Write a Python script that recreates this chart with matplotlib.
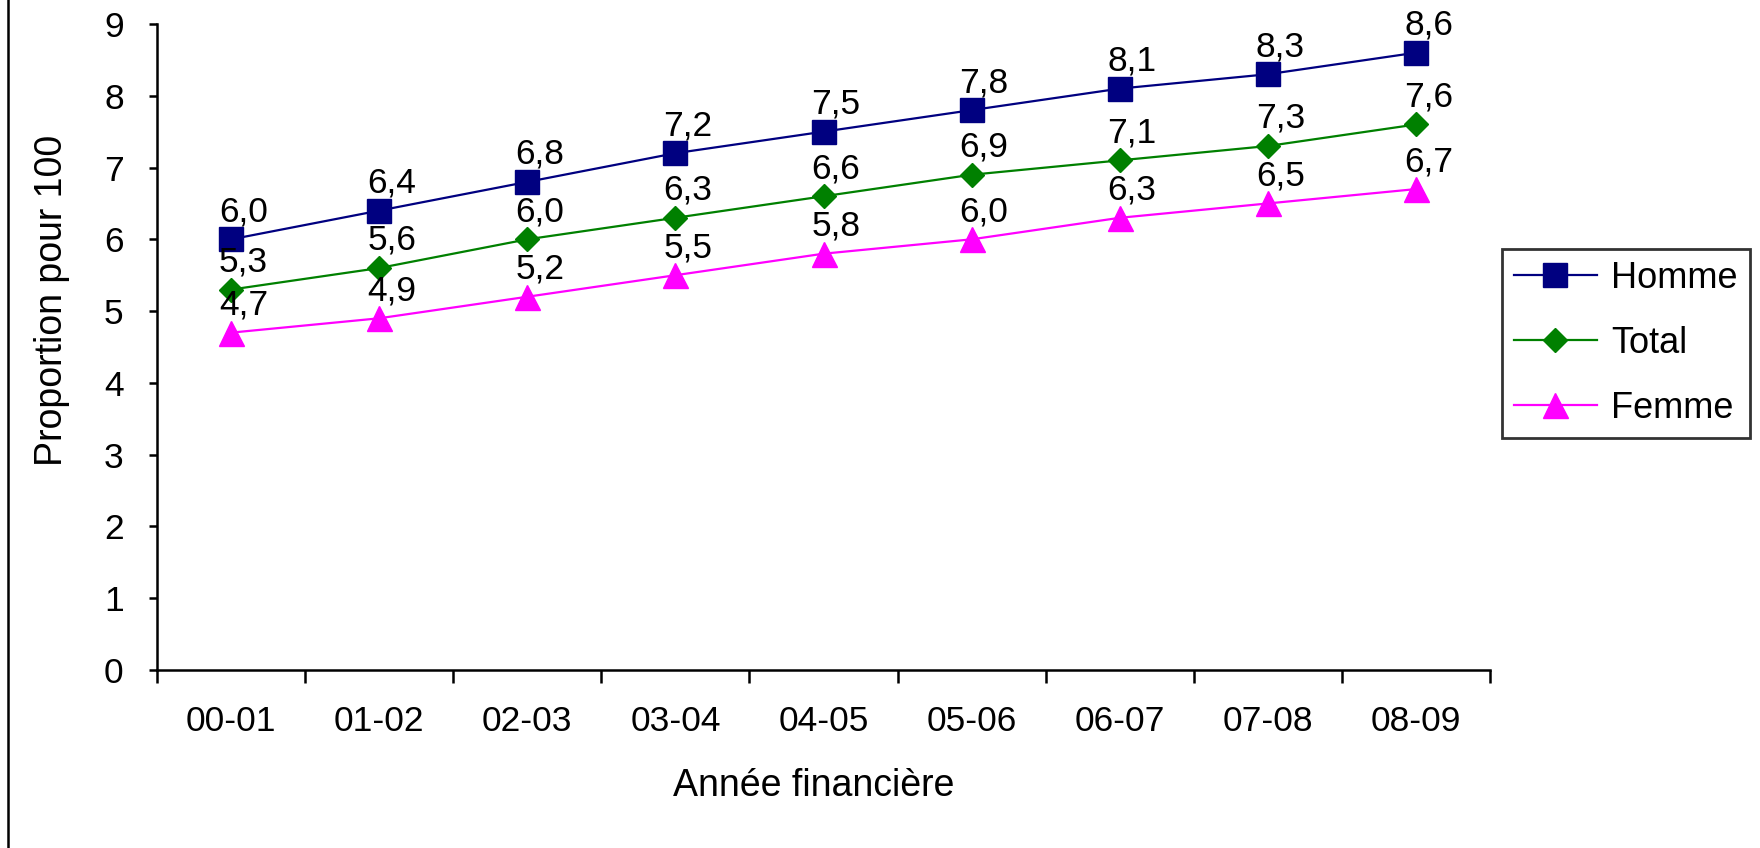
import matplotlib
matplotlib.use("Agg")
import matplotlib.pyplot as plt
from matplotlib.lines import Line2D

plt.rcParams['font.family'] = ['Liberation Sans', 'DejaVu Sans']

years = ["00-01", "01-02", "02-03", "03-04", "04-05", "05-06", "06-07", "07-08", "08-09"]
homme = [6.0, 6.4, 6.8, 7.2, 7.5, 7.8, 8.1, 8.3, 8.6]
total = [5.3, 5.6, 6.0, 6.3, 6.6, 6.9, 7.1, 7.3, 7.6]
femme = [4.7, 4.9, 5.2, 5.5, 5.8, 6.0, 6.3, 6.5, 6.7]
yticks = [0, 1, 2, 3, 4, 5, 6, 7, 8, 9]

W, H = 1760, 848
fig = plt.figure(figsize=(W / 100, H / 100), dpi=100)
ax = fig.add_axes([157 / W, 1 - 670 / H, (1490 - 157) / W, (670 - 24) / H])

series = [
    ("Homme", homme, "#000080", "s", 17),
    ("Total", total, "#008000", "D", 12),
    ("Femme", femme, "#FF00FF", "^", 18),
]
x = list(range(len(years)))
fs_tick = 25.5
fs_label = 27
for name, vals, color, marker, ms in series:
    ax.plot(x, vals, color=color, lw=1.6, marker=marker, markersize=ms,
            markerfacecolor=color, markeredgecolor=color, label=name, clip_on=False)
    for xi, v in zip(x, vals):
        ax.annotate(f"{v:.1f}".replace(".", ","), (xi, v), xytext=(9, 13),
                    textcoords="offset points", ha="center", va="baseline",
                    fontsize=fs_tick, color="black")

ax.set_xlim(-0.5, len(years) - 0.5)
ax.set_ylim(0, 9)
ax.set_yticks(yticks)
ax.set_yticklabels([str(t) for t in yticks])
ax.set_xticks([i - 0.5 for i in range(len(years) + 1)])
ax.set_xticklabels([])
ax.set_xticks(x, minor=True)
ax.set_xticklabels(years, minor=True)
ax.tick_params(axis="x", which="major", direction="out", length=9, width=1.8)
ax.tick_params(axis="x", which="minor", length=0, pad=25, labelsize=fs_tick)
ax.tick_params(axis="y", direction="out", length=6, width=1.8, pad=18, labelsize=fs_tick)
for s in ("top", "right"):
    ax.spines[s].set_visible(False)
for s in ("left", "bottom"):
    ax.spines[s].set_linewidth(1.8)

fig.text(52 / W, 1 - 300 / H, "Proportion pour 100", rotation=90,
         ha="center", va="center", fontsize=fs_label)
fig.text(814 / W, 1 - 786 / H, "Année financière", ha="center", va="center",
         fontsize=fs_label)

leg = ax.legend(loc="upper left", bbox_to_anchor=(1502 / W, 1 - 249 / H),
                bbox_transform=fig.transFigure, borderaxespad=0, fontsize=26,
                frameon=True, fancybox=False, edgecolor="black",
                handlelength=2.3, handletextpad=0.4, labelspacing=0.83,
                borderpad=0.33)
leg.get_frame().set_linewidth(2)

fig.add_artist(Line2D([8 / W, 8 / W], [0, 1], transform=fig.transFigure,
                      color="black", lw=1.8))

fig.savefig("out.png", dpi=100)
